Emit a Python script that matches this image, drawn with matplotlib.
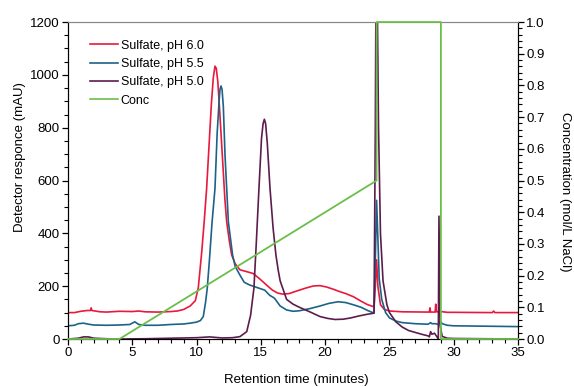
import matplotlib
matplotlib.use("Agg")
import matplotlib.pyplot as plt
from matplotlib.ticker import MultipleLocator, FormatStrFormatter

plt.rcParams['font.family'] = ['Liberation Sans', 'DejaVu Sans']

# Sulfate, pH 6.0
t_ph60 = [0, 0.5, 1.0, 1.5, 1.75, 1.8, 1.85, 2.5, 3, 4, 5, 5.5, 6, 7, 8, 8.5, 9.0, 9.5, 9.9, 10.13,
          10.4, 10.6, 10.78, 11.0, 11.15, 11.3, 11.43, 11.53, 11.65, 11.8, 12.0, 12.2, 12.34, 12.55,
          12.73, 13.0, 13.37, 13.9, 14.4, 14.9, 15.45, 15.9, 16.3, 16.7, 17.2, 17.8, 18.5, 19.1,
          19.6, 20.1, 20.6, 21.1, 21.6, 22.2, 22.8, 23.3, 23.8, 23.9, 24.0, 24.1, 24.3, 24.6, 25, 26,
          28, 28.1, 28.15, 28.2, 28.55, 28.6, 28.65, 29.0, 29.5, 30, 33, 33.1, 33.2, 35]
y_ph60 = [100, 100, 105, 108, 108, 118, 108, 103, 102, 105, 104, 106, 103, 102, 104, 106, 112, 125,
          145, 193, 330, 450, 570, 760, 890, 990, 1033, 1025, 975, 860, 696, 530, 444, 370, 318, 285,
          262, 255, 248, 228, 204, 185, 174, 170, 172, 182, 193, 201, 202, 197, 189, 180, 172, 160,
          143, 130, 122, 200, 300, 200, 130, 112, 106, 103, 102, 102, 118, 102, 102, 132, 103, 104,
          101, 101, 100, 106, 100, 100]

# Sulfate, pH 5.5
t_ph55 = [0, 0.5, 0.8, 1.2, 1.6, 2.0, 3, 4, 4.8, 5.2, 5.5, 6, 7, 8, 9, 9.5, 10.0, 10.3, 10.52,
          10.7, 10.83, 11.0, 11.2, 11.43, 11.6, 11.75, 11.82, 11.9, 11.98, 12.08, 12.21, 12.47, 12.8,
          13.0, 13.37, 13.7, 14.15, 14.7, 15.3, 15.7, 16.05, 16.5, 17.0, 17.5, 18.0, 18.8, 19.6, 20.3,
          21.0, 21.6, 22.3, 22.8, 23.3, 23.8, 23.9, 24.0, 24.1, 24.2, 24.4, 24.7, 25, 25.5, 26, 27,
          28, 28.2, 28.3, 28.6, 28.8, 28.95, 29.1, 29.5, 30, 35]
y_ph55 = [50, 52, 58, 60, 56, 53, 52, 53, 55, 65, 55, 52, 52, 55, 57, 60, 64, 70, 85, 140, 193, 300,
          440, 570, 780, 900, 945, 958, 945, 880, 696, 444, 318, 275, 242, 215, 204, 195, 185, 165,
          155, 125, 110, 105, 107, 115, 125, 135, 141, 138, 128, 120, 108, 98, 300, 525, 380, 230,
          150, 100, 80, 68, 62, 58, 56, 62, 58, 58, 55, 68, 58, 52, 50, 47]

# Sulfate, pH 5.0
t_ph50 = [0, 0.8, 1.2, 1.6, 2.0, 3, 4, 6, 8, 10, 11, 12, 12.8, 13.37, 13.9, 14.2, 14.46, 14.65,
          14.85, 15.05, 15.17, 15.27, 15.37, 15.5, 15.71, 15.95, 16.17, 16.35, 16.5, 17.0, 17.5,
          18.0, 18.8, 19.6, 20.2, 20.76, 21.4, 22.0, 22.6, 23.2, 23.8, 23.9, 23.95, 24.05, 24.15,
          24.3, 24.5, 24.8, 25, 25.5, 26, 26.5, 27, 27.5, 28, 28.1, 28.2, 28.3, 28.5, 28.7, 28.8,
          28.85, 28.95, 29.1, 29.5, 30, 35]
y_ph50 = [0, 3, 8, 8, 3, 1, 0, 1, 3, 5, 8, 4, 5, 9, 28, 90, 193, 370, 570, 760, 815, 832, 815, 740,
          570, 420, 318, 260, 220, 150, 132, 120, 103, 85, 78, 74, 75, 80, 87, 93, 98, 800, 1300,
          1300, 800, 400, 220, 130, 100, 65, 45, 32, 25, 18, 12, 8, 28, 18, 22, 8, 0, 465, 50, 10,
          3, 2, 0]

# NaCl gradient
t_conc = [0, 4, 24, 24, 29, 29, 35]
conc = [0, 0, 0.5, 1.0, 1.0, 0, 0]

fig = plt.figure(figsize=(5.74, 3.87), dpi=100)
ax1 = fig.add_axes([0.1185, 0.124, 0.784, 0.819])

ax1.plot(t_ph60, y_ph60, color='#e8193c', lw=1.2, label='Sulfate, pH 6.0')
ax1.plot(t_ph55, y_ph55, color='#1b6387', lw=1.2, label='Sulfate, pH 5.5')
ax1.plot(t_ph50, y_ph50, color='#5c1d4c', lw=1.2, label='Sulfate, pH 5.0')
ax1.plot([], [], color='#6abf4b', lw=1.2, label='Conc')

ax1.set_xlim(0, 35)
ax1.set_ylim(0, 1200)
ax1.xaxis.set_major_locator(MultipleLocator(5))
ax1.xaxis.set_minor_locator(MultipleLocator(1))
ax1.yaxis.set_major_locator(MultipleLocator(200))
ax1.yaxis.set_minor_locator(MultipleLocator(50))
ax1.tick_params(which='major', length=4, width=0.9, labelsize=9.5, pad=2)
ax1.tick_params(which='minor', length=3, width=0.8)
ax1.spines['top'].set_color('#888888')

ax2 = ax1.twinx()
ax2.plot(t_conc, conc, color='#6abf4b', lw=1.3, clip_on=False, zorder=5)
ax2.set_ylim(0, 1.0)
ax2.yaxis.set_major_locator(MultipleLocator(0.1))
ax2.yaxis.set_minor_locator(MultipleLocator(0.02))
ax2.yaxis.set_major_formatter(FormatStrFormatter('%.1f'))
ax2.tick_params(which='major', length=4, width=0.9, labelsize=9.5, pad=2)
ax2.tick_params(which='minor', length=3, width=0.8)
ax2.spines['top'].set_color('#888888')

# axis titles placed by hand
fig.text(0.517, 0.018, 'Retention time (minutes)', ha='center', va='center', fontsize=9.5)
fig.text(0.035, 0.594, 'Detector responce (mAU)', ha='center', va='center',
         rotation=90, fontsize=9.5)
fig.text(0.984, 0.504, 'Concentration (mol/L NaCl)', ha='center', va='center',
         rotation=270, fontsize=9.5)

ax1.legend(loc='upper left', frameon=False, fontsize=9, handlelength=2.2,
           handletextpad=0.25, labelspacing=0.5, borderpad=0, borderaxespad=0,
           bbox_to_anchor=(0.049, 0.944))

fig.savefig('out.png', dpi=100)
